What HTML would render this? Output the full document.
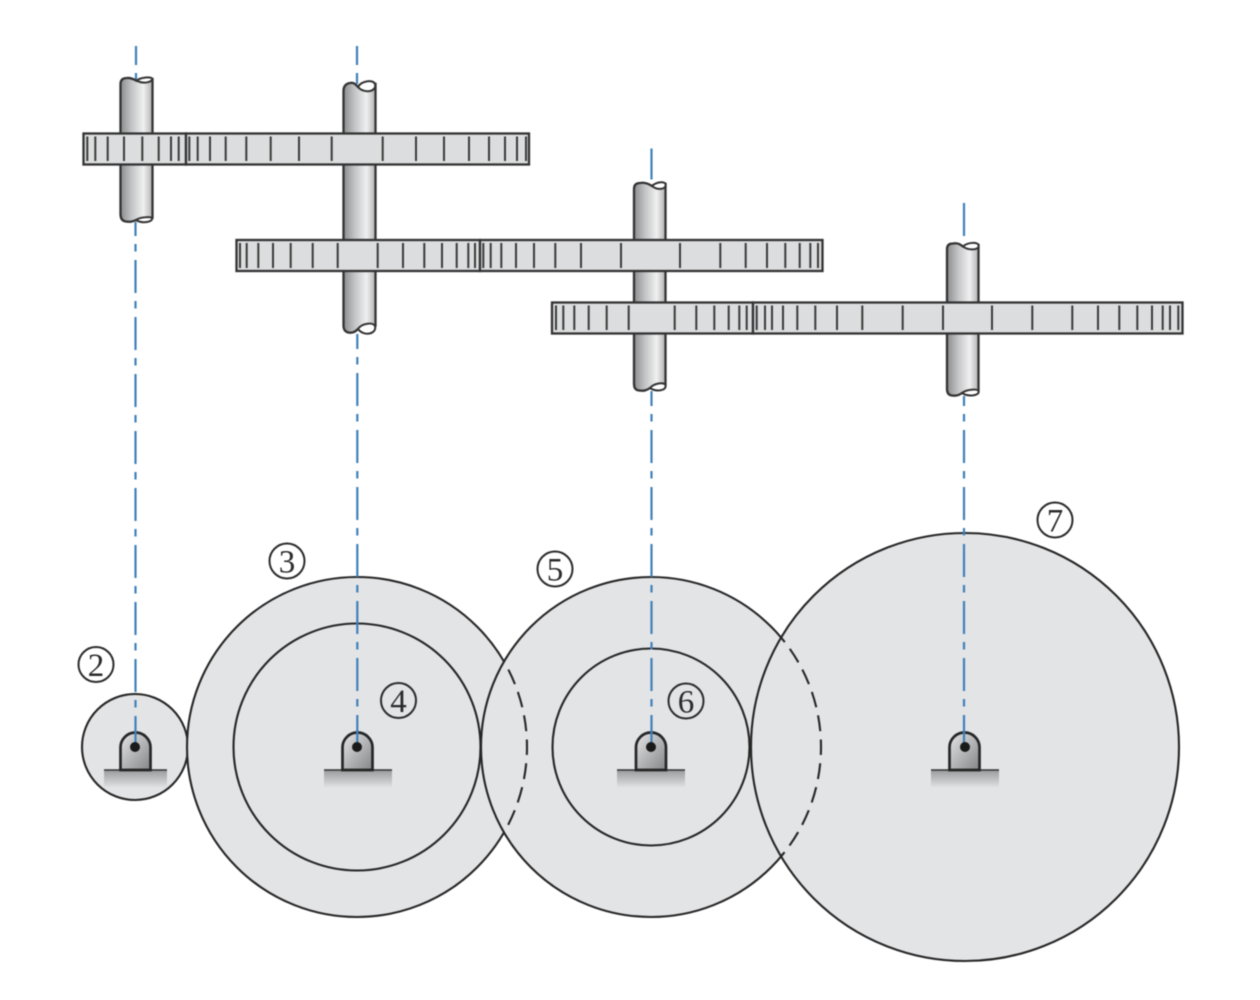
<!DOCTYPE html>
<html>
<head>
<meta charset="utf-8">
<style>
html,body{margin:0;padding:0;background:#fff;width:1260px;height:1000px;overflow:hidden}
svg{display:block;filter:blur(0.5px)}
.gear{fill:#dcddde;stroke:#333;stroke-width:2.3}
.t{stroke:#3a3a3a;stroke-width:2;fill:none}
.c{stroke:#3f80ba;stroke-width:2.200;fill:none;stroke-dasharray:33 8 7.500 8.500}
.u{stroke:#3f80ba;stroke-width:2.200;fill:none}
.d{fill:#e3e4e6;stroke:#262626;stroke-width:2.100}
.a{fill:none;stroke:#262626;stroke-width:2.100;stroke-dasharray:16 8.276;stroke-dashoffset:8}
.l{fill:#fff;stroke:#2b2b2b;stroke-width:2}
.l2{fill:none;stroke:#2b2b2b;stroke-width:2}
text{font-family:"Liberation Serif",serif;font-size:33px;fill:#2b2b2b;text-anchor:middle}
.s{fill:url(#sg);stroke:#333;stroke-width:2.300}
.lb{fill:#fff;stroke:#333;stroke-width:2}
.ped{fill:url(#pg);stroke:#262626;stroke-width:2.700}
</style>
</head>
<body>
<svg width="1260" height="1000" viewBox="0 0 1260 1000" xmlns="http://www.w3.org/2000/svg">
<defs>
<linearGradient id="sg" x1="0" x2="1" y1="0" y2="0">
<stop offset="0" stop-color="#8b8c8e"/><stop offset=".35" stop-color="#c3c4c6"/><stop offset=".72" stop-color="#f0f0f0"/><stop offset="1" stop-color="#b0b1b3"/>
</linearGradient>
<linearGradient id="pg" x1="0" x2="1" y1="0" y2="1">
<stop offset="0" stop-color="#e6e6e7"/><stop offset="1" stop-color="#858688"/>
</linearGradient>
<linearGradient id="bg" x1="0" x2="0" y1="0" y2="1">
<stop offset="0" stop-color="#9a9b9d"/><stop offset="1" stop-color="#9a9b9d" stop-opacity="0"/>
</linearGradient>
<clipPath id="in5"><circle cx="651" cy="747" r="170"/></clipPath>
<clipPath id="in7"><circle cx="965" cy="747" r="214"/></clipPath>
</defs>

<!-- center lines, upper -->
<path class="u" d="M136 46V65M136 73V80"/>
<path class="u" d="M357 46V65M357 73V84"/>
<path class="u" d="M651.500 148.500V179.500"/>
<path class="u" d="M964 203V236"/>

<!-- shafts -->
<path class="s" d="M120.500 214V84Q120.500 78 127 78C131 77.500 134 79.500 137 81L152.500 79V218C145 222 140 219 136 220C132 222 130 222 126 221.500Q120.500 221 120.500 214Z"/>
<path class="lb" d="M137 80.500C140 77.500 150 76.500 152 78.500C153.500 82 143 84.500 137 80.500Z"/>
<path class="lb" d="M136 220C140 217 150 216.500 152 218C153.500 222 142 224 136 220Z"/>

<path class="s" d="M343.500 326V91Q343.500 84 350 83C354 82 356 85 358 87L375.500 84V326C370 330 362 327 358 329C354 333 351 333 348 332.500Q343.500 331 343.500 326Z"/>
<path class="lb" d="M358 87C361 81 373 79 375 84C377 92 364 94 358 87Z"/>
<path class="lb" d="M358 329C362 323 373 322 375 326C377 334 364 337 358 329Z"/>

<path class="s" d="M634 384V189Q634 183 640 183C645 182 649 184 652 186L665.500 184V385C660 388 654 386 650 388C646 391 643 391 639 390.500Q634 390 634 384Z"/>
<path class="lb" d="M652 186C656 182 664 181 665.500 184C667 189 658 191 652 186Z"/>
<path class="lb" d="M650 388C654 383 664 382 665.500 385C667 391 656 392 650 388Z"/>

<path class="s" d="M947 389V249Q947 243.500 953 243.500C958 242.500 961 245 963 246.500L978.500 245V391C972 394 966 392 962 393C958 396 955 396 952 395.500Q947 395 947 389Z"/>
<path class="lb" d="M963 246.500C967 242.500 977 241.500 978.500 245C980 250 969 251 963 246.500Z"/>
<path class="lb" d="M962 393C966 389.500 977 388.500 978.500 391C980 396 968 397 962 393Z"/>

<!-- gears, side view -->
<rect class="gear" x="83.500" y="133.500" width="102.500" height="31"/>
<rect class="gear" x="186" y="133.500" width="343" height="31"/>
<path class="t" d="M87.300 136.500V161M95.300 136.500V161M107.700 136.500V161M124 136.500V161M142.300 136.500V161M158.700 136.500V161M171 136.500V161M178.700 136.500V161"/>
<path class="t" d="M189.300 136.500V161M197.700 136.500V161M210 136.500V161M225.700 136.500V161M246.300 136.500V161M270.700 136.500V161M299 136.500V161M331.700 136.500V161M382.700 136.500V161M416 136.500V161M444 136.500V161M469 136.500V161M489 136.500V161M505 136.500V161M517 136.500V161M526 136.500V161"/>

<rect class="gear" x="236.500" y="240" width="243.500" height="31"/>
<rect class="gear" x="480" y="240" width="342.500" height="31"/>
<path class="t" d="M240 243V268M246.700 243V268M258.300 243V268M273 243V268M290.700 243V268M312.700 243V268M337.700 243V268M377.700 243V268M403 243V268M424.300 243V268M442 243V268M456.700 243V268M468.300 243V268M475 243V268"/>
<path class="t" d="M483.300 243V268M490.700 243V268M501.300 243V268M516 243V268M534 243V268M555.300 243V268M581 243V268M621 243V268M680 243V268M720.300 243V268M745.700 243V268M767 243V268M785.300 243V268M799.700 243V268M810.300 243V268M818 243V268"/>

<rect class="gear" x="552" y="302.500" width="201" height="31"/>
<rect class="gear" x="753" y="302.500" width="429.500" height="31"/>
<path class="t" d="M556 305.500V330M563.300 305.500V330M574.300 305.500V330M588.700 305.500V330M606.700 305.500V330M628.700 305.500V330M674.700 305.500V330M696.300 305.500V330M714.300 305.500V330M728.700 305.500V330M739.300 305.500V330M746.700 305.500V330"/>
<path class="t" d="M756.700 305.500V330M765 305.500V330M772 305.500V330M783 305.500V330M797.300 305.500V330M815.300 305.500V330M837 305.500V330M862.300 305.500V330M902.700 305.500V330M943 305.500V330M992 305.500V330M1032.300 305.500V330M1072.300 305.500V330M1098 305.500V330M1119.300 305.500V330M1137.300 305.500V330M1152 305.500V330M1162.700 305.500V330M1170 305.500V330M1178.300 305.500V330"/>

<!-- gears, front view -->
<circle class="d" cx="135" cy="747" r="53"/>
<circle class="d" cx="357" cy="747" r="170"/>
<circle class="d" cx="357" cy="747" r="123.500"/>
<circle class="d" cx="651" cy="747" r="170"/>
<g clip-path="url(#in5)"><circle class="a" cx="357" cy="747" r="170"/></g>
<circle class="d" cx="651" cy="747" r="98.500"/>
<circle class="d" cx="965" cy="747" r="214"/>
<g clip-path="url(#in7)"><circle class="a" cx="651" cy="747" r="170"/></g>

<!-- pedestals -->
<g>
<rect x="104" y="770" width="63" height="18" fill="url(#bg)"/>
<path d="M104 770H167" stroke="#333" stroke-width="1.500"/>
<path class="ped" d="M120.500 770V747.500A15 15 0 0 1 150.500 747.500V770Z"/>
</g>
<g>
<rect x="324" y="770" width="68" height="18" fill="url(#bg)"/>
<path d="M324 770H392" stroke="#333" stroke-width="1.500"/>
<path class="ped" d="M342.500 770V747.500A15 15 0 0 1 372.500 747.500V770Z"/>
</g>
<g>
<rect x="617" y="770" width="68" height="18" fill="url(#bg)"/>
<path d="M617 770H685" stroke="#333" stroke-width="1.500"/>
<path class="ped" d="M636 770V747.500A15 15 0 0 1 666 747.500V770Z"/>
</g>
<g>
<rect x="931" y="770" width="68" height="18" fill="url(#bg)"/>
<path d="M931 770H999" stroke="#333" stroke-width="1.500"/>
<path class="ped" d="M949.500 770V747.500A15 15 0 0 1 979.500 747.500V770Z"/>
</g>

<!-- center lines, lower -->
<path class="c" d="M135.500 222V747" stroke-dashoffset="19"/>
<path class="c" d="M357.300 334V747" stroke-dashoffset="18"/>
<path class="c" d="M651.500 391V747" stroke-dashoffset="18"/>
<path class="c" d="M964 396V747" stroke-dashoffset="23"/>

<circle cx="135" cy="747" r="5" fill="#1a1a1a"/>
<circle cx="357" cy="747" r="5" fill="#1a1a1a"/>
<circle cx="651" cy="747" r="5" fill="#1a1a1a"/>
<circle cx="965" cy="747" r="5" fill="#1a1a1a"/>

<!-- labels -->
<circle class="l" cx="96" cy="664.500" r="17.500"/><text x="96" y="676">2</text>
<circle class="l" cx="287" cy="561" r="17.500"/><text x="287" y="572.500">3</text>
<circle class="l2" cx="398.500" cy="700.500" r="17.500"/><text x="398.500" y="712">4</text>
<circle class="l" cx="555" cy="569" r="17.500"/><text x="555" y="580.500">5</text>
<circle class="l2" cx="686" cy="701" r="17.500"/><text x="686" y="712.500">6</text>
<circle class="l" cx="1055" cy="520" r="17.500"/><text x="1055" y="531.500">7</text>
</svg>
</body>
</html>
